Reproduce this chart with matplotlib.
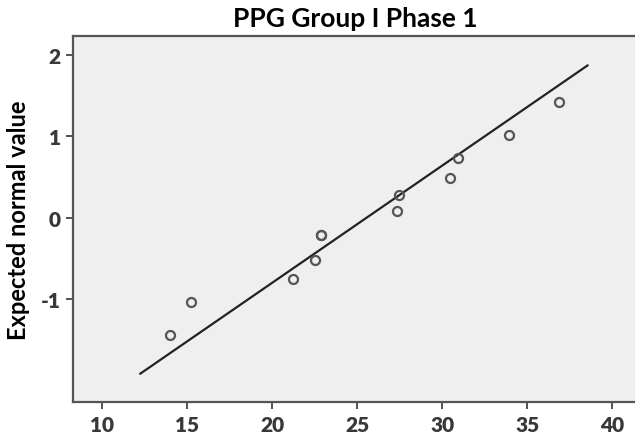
import matplotlib.pyplot as plt

obs = [14.0, 15.2, 21.25, 22.55, 22.85, 22.9, 27.35, 27.45, 30.45, 30.95, 33.95, 36.85]
expected = [-1.44, -1.03, -0.75, -0.52, -0.21, -0.21, 0.09, 0.28, 0.49, 0.74, 1.02, 1.42]

# reference line endpoints
line_x = [12.25, 38.55]
line_y = [-1.91, 1.87]

x_ticks = [10, 15, 20, 25, 30, 35, 40]
y_ticks = [-1, 0, 1, 2]

plt.rcParams['font.family'] = ['Lato', 'DejaVu Sans']
plt.rcParams['axes.unicode_minus'] = False

fig = plt.figure(figsize=(6.35, 4.39), dpi=100)
ax = fig.add_axes([0.115, 0.082, 0.89, 0.834])
ax.set_facecolor('#efefef')

ax.plot(line_x, line_y, color='#222222', linewidth=1.6, zorder=2)
ax.plot(obs, expected, linestyle='none', marker='o', markersize=6.5,
        markerfacecolor='none', markeredgecolor='#555555', markeredgewidth=1.6, zorder=3)

ax.set_xlim(8.29, 41.53)
ax.set_ylim(-2.258, 2.233)
ax.set_xticks(x_ticks)
ax.set_yticks(y_ticks)
ax.tick_params(direction='out', length=5, width=1.3, color='#444444',
               labelsize=15, labelcolor='#383838', pad=4)
for lab in ax.get_xticklabels() + ax.get_yticklabels():
    lab.set_fontweight('heavy')

for side in ['left', 'bottom', 'top']:
    ax.spines[side].set_color('#555555')
    ax.spines[side].set_linewidth(1.6)
ax.spines['right'].set_visible(False)

ax.set_ylabel('Expected normal value', fontsize=17, fontweight='bold', labelpad=8)
ax.set_title('PPG Group I Phase 1', fontsize=19, fontweight='bold', pad=7)

plt.savefig('out.png', dpi=100)
plt.close()
